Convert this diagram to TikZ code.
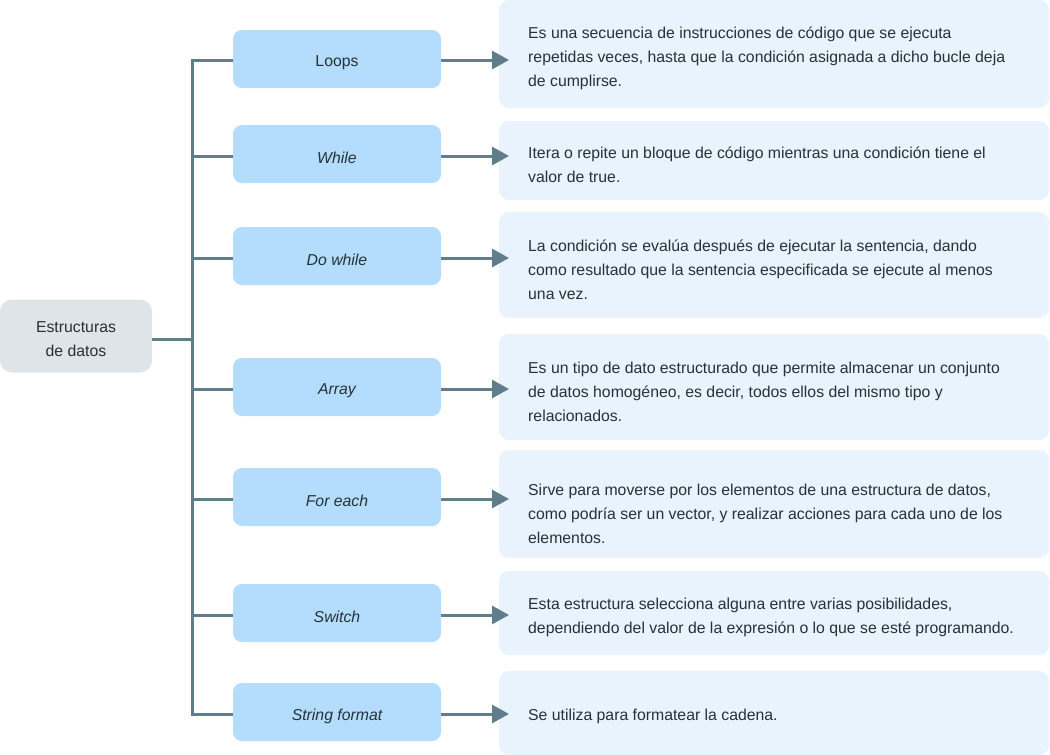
\documentclass[tikz,border=0pt]{standalone}
\usepackage{fontspec}
\setmainfont{Liberation Sans}
\usetikzlibrary{arrows.meta}
\definecolor{linec}{HTML}{607D8B}
\definecolor{midc}{HTML}{B3DCFD}
\definecolor{rootc}{HTML}{DFE4E8}
\definecolor{descc}{HTML}{E8F3FD}
\definecolor{txtc}{HTML}{263238}
\newcommand{\dn}[1]{\raisebox{-4pt}[\height][\depth]{#1}}
\begin{document}
\begin{tikzpicture}[x=1pt,y=-1pt,
  every node/.style={text=txtc,font=\fontsize{15.8}{24}\selectfont},
  rootbox/.style={fill=rootc,rounded corners=12pt,minimum width=152pt,minimum height=73pt,inner sep=0pt,align=center},
  midbox/.style={fill=midc,rounded corners=9pt,minimum width=208pt,minimum height=58pt,inner sep=0pt},
  descbox/.style={fill=descc,rounded corners=10pt},
  desctext/.style={anchor=west,align=left,inner sep=0pt},
  conn/.style={draw=linec,line width=3pt},
  arr/.style={conn,-{Triangle[length=17pt,width=18pt]}}
]
\useasboundingbox (0,0) rectangle (1050,755);
% description boxes
\path[descbox] (499,0) rectangle (1049,108);
\path[descbox] (499,121) rectangle (1049,200);
\path[descbox] (499,212) rectangle (1049,318);
\path[descbox] (499,334) rectangle (1049,440);
\path[descbox] (499,450) rectangle (1049,558);
\path[descbox] (499,571) rectangle (1049,655);
\path[descbox] (499,671) rectangle (1049,755);
\node[desctext] (d1) at (528,58.5) {Es una secuencia de instrucciones de código que se ejecuta\\repetidas veces, hasta que la condición asignada a dicho bucle deja\\de cumplirse.};
\node[desctext] (d2) at (528,164.5) {Itera o repite un bloque de código mientras una condición tiene el\\valor de true.};
\node[desctext] (d3) at (528,269.5) {La condición se evalúa después de ejecutar la sentencia, dando\\como resultado que la sentencia especificada se ejecute al menos\\una vez.};
\node[desctext] (d4) at (528,391.5) {Es un tipo de dato estructurado que permite almacenar un conjunto\\de datos homogéneo, es decir, todos ellos del mismo tipo y\\relacionados.};
\node[desctext] (d5) at (528,513.5) {Sirve para moverse por los elementos de una estructura de datos,\\como podría ser un vector, y realizar acciones para cada uno de los\\elementos.};
\node[desctext] (d6) at (528,617.5) {Esta estructura selecciona alguna entre varias posibilidades,\\dependiendo del valor de la expresión o lo que se esté programando.};
\node[desctext] (d7) at (528,716.5) {Se utiliza para formatear la cadena.};
% arrow targets
\coordinate (t1) at (509,60);
\coordinate (t2) at (509,156);
\coordinate (t3) at (509,258);
\coordinate (t4) at (509,389);
\coordinate (t5) at (509,499);
\coordinate (t6) at (509,615);
\coordinate (t7) at (509,714);
% root
\node[rootbox] (root) at (76,336) {\dn{\begin{tabular}{@{}c@{}}Estructuras\\de datos\end{tabular}}};
% middle boxes
\node[midbox] (m1) at (337,59) {\dn{Loops}};
\node[midbox] (m2) at (337,154) {\dn{\itshape While}};
\node[midbox] (m3) at (337,256) {\dn{\itshape Do while}};
\node[midbox] (m4) at (337,387) {\dn{\itshape Array}};
\node[midbox] (m5) at (337,497) {\dn{\itshape For each}};
\node[midbox] (m6) at (337,613) {\dn{\itshape Switch}};
\node[midbox] (m7) at (337,712) {\dn{\itshape String format}};
% trunk
\coordinate (top) at (192,60);
\coordinate (bot) at (192,714);
\coordinate (rj) at (192,339);
\draw[conn] (233,60) -- (top) -- (bot) -- (233,714);
\draw[conn] (root.east |- rj) -- (rj);
\foreach \y/\i in {156/2,258/3,389/4,499/5,615/6}{
  \draw[conn] (192,\y) -- (m\i.west |- 0,\y);
}
\foreach \i/\y in {1/60,2/156,3/258,4/389,5/499,6/615,7/714}{
  \draw[arr] (m\i.east |- 0,\y) -- (t\i);
}
\end{tikzpicture}
\end{document}
